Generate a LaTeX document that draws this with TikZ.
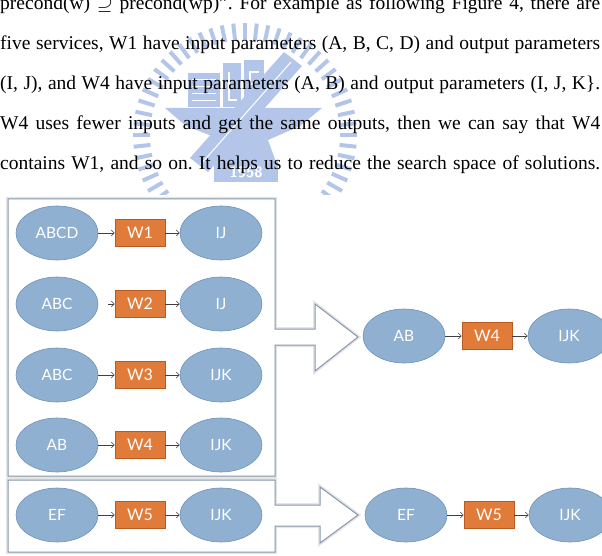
\documentclass[tikz,border=0pt]{standalone}
\usepackage{fontspec}
\usepackage{amssymb}
\usepackage{tikz}
\setmainfont{Liberation Serif}
\newfontfamily\labelfont{Lato}
\usetikzlibrary{arrows.meta}
\usetikzlibrary{shapes.geometric}

\definecolor{paramblue}{HTML}{8FB0D1}
\definecolor{paramedge}{HTML}{6E93BA}
\definecolor{svcorange}{HTML}{E07B3A}
\definecolor{svcedge}{HTML}{B85A22}
\definecolor{calloutedge}{HTML}{8797AE}
\definecolor{crest}{HTML}{B3C6EA}

\tikzset{param/.style = {ellipse, fill=paramblue, draw=paramedge, line width=0.6pt,
                         minimum width=82pt, minimum height=54pt, inner sep=0,
                         text=white, font=\labelfont\fontsize{15.5}{17}\selectfont}}
\tikzset{svc/.style = {rectangle, fill=svcorange, draw=svcedge, line width=0.6pt,
                       minimum width=50pt, minimum height=27pt, inner sep=0,
                       text=white, font=\labelfont\fontsize{16}{17}\selectfont}}
\tikzset{flow/.style = {-{Straight Barb[length=3pt, width=6pt]}, draw=black!75, line width=0.6pt}}
\tikzset{callout/.style = {fill=white, draw=calloutedge, line width=1pt, line join=miter}}
\tikzset{halo/.style = {draw=black!10, line width=4pt, line join=miter}}
\tikzset{bodyline/.style = {anchor=base west, inner sep=0, font=\fontsize{19.5}{22}\selectfont}}

\frenchspacing
\begin{document}
\begin{tikzpicture}[x=1pt, y=-1pt]
    \useasboundingbox (0, 0) rectangle (602, 556);
    \clip (0, 0) rectangle (602, 556);

    % crest behind the text
    \begin{scope}[crest]
      \clip (0, 0) rectangle (602, 195);
      \foreach \a in {0, 6, ..., 354}
        \draw [line width=4pt] ({245 + 95*cos(\a)}, {135 + 95*sin(\a)}) -- ({245 + 112*cos(\a)}, {135 + 112*sin(\a)});
      \fill (188, 73) rectangle (220, 107);
      \foreach \y in {80, 87, 94, 101}
        \draw [white, line width=1pt] (192, \y) -- (216, \y);
      \fill (223, 63) rectangle (241, 107);
      \fill (244, 60) rectangle (264, 107);
      \draw [white, line width=2pt] (229, 72) -- (229, 100) -- (237, 100);
      \draw [white, line width=2pt] (259, 72) -- (250, 72) -- (250, 84) -- (259, 84) -- (259, 98) -- (249, 98);
      \fill (165, 108) -- (322, 108) -- (300, 126) -- (268, 140) -- (276, 162) -- (214, 162) -- (222, 140) -- (186, 126) -- cycle;
      \fill (284, 52) -- (302, 66) -- (208, 172) -- (190, 158) -- cycle;
      \draw [white, line width=1pt] (291, 62) -- (201, 164);
      \fill (214, 160) rectangle (278, 182);
      \node [text=white, font=\sffamily\bfseries\fontsize{15}{15}\selectfont] (year) at (246, 172) {1958};
    \end{scope}

    % running text
    \node [bodyline] (line1) at (0, 10) {\makebox[600pt][s]{precond(w) $\supseteq$ precond(wp)''. For example as following Figure 4, there are}};
    \node [bodyline] (line2) at (0, 50) {\makebox[600pt][s]{five services, W1 have input parameters (A, B, C, D) and output parameters}};
    \node [bodyline] (line3) at (0, 90) {\makebox[600pt][s]{(I, J), and W4 have input parameters (A, B) and output parameters (I, J, K\}.}};
    \node [bodyline] (line4) at (0, 130) {\makebox[600pt][s]{W4 uses fewer inputs and get the same outputs, then we can say that W4}};
    \node [bodyline] (line5) at (0, 170) {\makebox[600pt][s]{contains W1, and so on. It helps us to reduce the search space of solutions.}};

    % callout frames
    \draw [halo] (8, 199) -- (275, 199) -- (275, 329) -- (315, 329) -- (315, 304) -- (358, 337) -- (315, 371) -- (315, 345) -- (275, 345) -- (275, 476) -- (8, 476) -- cycle;
    \draw [callout] (8, 199) -- (275, 199) -- (275, 329) -- (315, 329) -- (315, 304) -- (358, 337) -- (315, 371) -- (315, 345) -- (275, 345) -- (275, 476) -- (8, 476) -- cycle;
    \draw [halo] (8, 480) -- (275, 480) -- (275, 505) -- (320, 505) -- (320, 487) -- (358, 515) -- (320, 543) -- (320, 526) -- (275, 526) -- (275, 552) -- (8, 552) -- cycle;
    \draw [callout] (8, 480) -- (275, 480) -- (275, 505) -- (320, 505) -- (320, 487) -- (358, 515) -- (320, 543) -- (320, 526) -- (275, 526) -- (275, 552) -- (8, 552) -- cycle;

    % services W1..W4
    \node [param] (in1) at (57, 233) {ABCD};
    \node [svc] (w1) at (140, 233) {W1};
    \node [param] (out1) at (221, 233) {IJ};
    \draw [flow] (in1) -- (w1);
    \draw [flow] (w1) -- (out1);

    \node [param] (in2) at (57, 304) {ABC};
    \node [svc] (w2) at (140, 304) {W2};
    \node [param] (out2) at (221, 304) {IJ};
    \draw [flow, shorten <=10pt] (in2) -- (w2);
    \draw [flow] (w2) -- (out2);

    \node [param] (in3) at (57, 375) {ABC};
    \node [svc] (w3) at (140, 375) {W3};
    \node [param] (out3) at (221, 375) {IJK};
    \draw [flow] (in3) -- (w3);
    \draw [flow] (w3) -- (out3);

    \node [param] (in4) at (57, 445) {AB};
    \node [svc] (w4) at (140, 445) {W4};
    \node [param] (out4) at (221, 445) {IJK};
    \draw [flow] (in4) -- (w4);
    \draw [flow] (w4) -- (out4);

    % service W5
    \node [param] (in5) at (57, 515) {EF};
    \node [svc] (w5) at (140, 515) {W5};
    \node [param] (out5) at (221, 515) {IJK};
    \draw [flow] (in5) -- (w5);
    \draw [flow] (w5) -- (out5);

    % what is kept
    \node [param] (keepin4) at (404, 336) {AB};
    \node [svc] (keepw4) at (487, 336) {W4};
    \node [param] (keepout4) at (569, 336) {IJK};
    \draw [flow] (keepin4) -- (keepw4);
    \draw [flow] (keepw4) -- (keepout4);

    \node [param] (keepin5) at (406, 515) {EF};
    \node [svc] (keepw5) at (489, 515) {W5};
    \node [param] (keepout5) at (570, 515) {IJK};
    \draw [flow] (keepin5) -- (keepw5);
    \draw [flow] (keepw5) -- (keepout5);
  \end{tikzpicture}
\end{document}
